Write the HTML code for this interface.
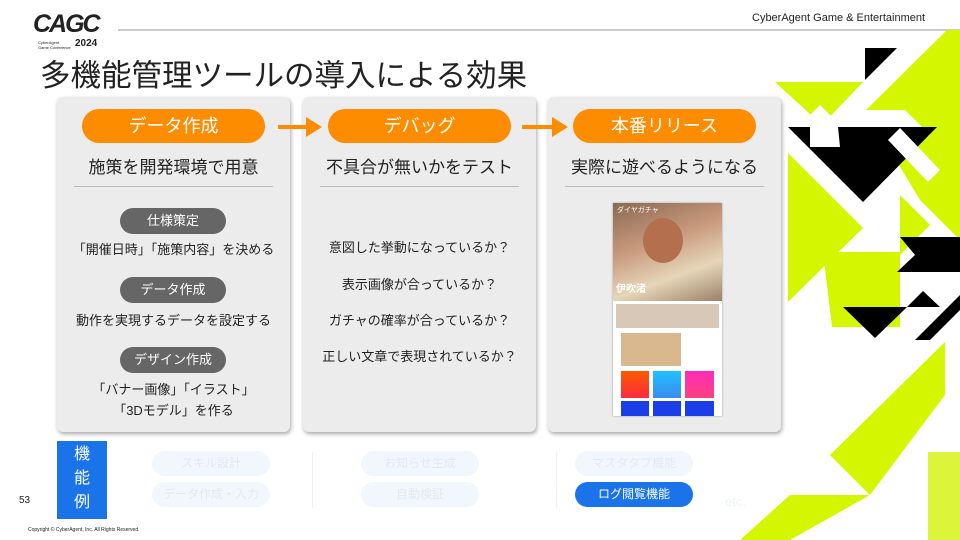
<!DOCTYPE html>
<html><head><meta charset="utf-8"><style>
body{margin:0;width:960px;height:540px;overflow:hidden;background:#fff;font-family:"Liberation Sans","Noto Sans CJK JP",sans-serif;position:relative;color:#222}
.a{position:absolute}
.panel{position:absolute;top:97px;width:233px;height:335px;background:#ececec;border-radius:6px;box-shadow:1px 2px 4px rgba(0,0,0,.35)}
.pill{position:absolute;background:#fe8c00;color:#fff;border-radius:18px;text-align:center;font-size:18px;height:34px;line-height:34px}
.sub{position:absolute;width:100%;text-align:center;font-size:17px;top:56px}
.hr{position:absolute;left:17px;right:17px;top:89px;height:1px;background:#bbb}
.gp{position:absolute;background:#666;color:#fff;border-radius:13px;font-size:13px;height:26px;line-height:26px;text-align:center}
.t{position:absolute;width:100%;text-align:center;font-size:13px}
.fp{position:absolute;height:25px;line-height:25px;border-radius:13px;background:#f2f6fd;color:#e3e9f4;font-size:12px;text-align:center;width:118px}
</style></head><body>
<svg class="a" style="left:0;top:0" width="960" height="540">
<line x1="118" y1="30" x2="960" y2="30" stroke="#bbb" stroke-width="1.5"/>
<g fill="#d4f700">
<polygon points="775,82 863,82 822,125"/>
<polygon points="866,110 947,30 960,30 960,240 920,200"/>
<polygon points="788,153 863,228 788,302"/>
<polygon points="823,252 900,252 900,327 832,327"/>
<polygon points="900,195 930,225 900,255"/>
<polygon points="830,455 945,342 945,395 870,495 790,540 740,540 790,495 870,495"/>
<polygon points="830,455 870,495 870,420"/>
</g>
<polygon points="928,452 960,452 960,540 928,540" fill="#dcf43a"/>
<g fill="#fff">
<polygon points="866,110 905,110 930,135 900,160 880,140"/>
<polygon points="820,105 860,145 850,155 810,115"/>
</g>
<g fill="#000">
<polygon points="865,48 897,48 865,80"/>
<polygon points="788,127 937,127 863,202"/>
<polygon points="900,237 960,237 960,272 897,272 915,255"/>
<polygon points="843,307 907,307 875,338"/>
<polygon points="907,307 940,307 923,291"/>
<polygon points="915,340 960,295 960,310 930,340"/>
</g>
<g fill="#fff">
<polygon points="810,127 838,127 840,147 810,147"/>
<polygon points="888,140 900,128 940,170 928,182"/>
</g>
</svg>
<div class="a" style="left:33px;top:10px;font-size:25px;font-weight:900;font-style:italic;letter-spacing:-2px">CAGC</div>
<div class="a" style="left:38px;top:40px;font-size:4px;line-height:5px">CyberAgent<br>Game Conference</div>
<div class="a" style="left:75px;top:38px;font-size:10px;font-weight:bold">2024</div>
<div class="a" style="left:752px;top:12px;font-size:11px">CyberAgent Game &amp; Entertainment</div>
<div class="a" style="left:40px;top:57px;font-size:30.5px;line-height:38px">多機能管理ツールの導入による効果</div>

<div class="panel" style="left:57px">
<div class="pill" style="left:25px;top:12px;width:183px">データ作成</div>
<div class="sub">施策を開発環境で用意</div><div class="hr"></div>
<div class="gp" style="left:63px;top:111px;width:106px">仕様策定</div>
<div class="t" style="top:142px">「開催日時」「施策内容」を決める</div>
<div class="gp" style="left:63px;top:180px;width:106px">データ作成</div>
<div class="t" style="top:213px">動作を実現するデータを設定する</div>
<div class="gp" style="left:63px;top:250px;width:106px">デザイン作成</div>
<div class="t" style="top:282px;line-height:21px">「バナー画像」「イラスト」<br>「3Dモデル」を作る</div>
</div>
<div class="panel" style="left:303px">
<div class="pill" style="left:25px;top:12px;width:183px">デバッグ</div>
<div class="sub">不具合が無いかをテスト</div><div class="hr"></div>
<div class="t" style="top:140px">意図した挙動になっているか？</div>
<div class="t" style="top:177px">表示画像が合っているか？</div>
<div class="t" style="top:213px">ガチャの確率が合っているか？</div>
<div class="t" style="top:249px">正しい文章で表現されているか？</div>
</div>
<div class="panel" style="left:548px">
<div class="pill" style="left:25px;top:12px;width:183px">本番リリース</div>
<div class="sub">実際に遊べるようになる</div><div class="hr"></div>
<div class="a" style="left:65px;top:106px;width:109px;height:213px;background:#fff;box-shadow:0 0 2px #999;overflow:hidden">
<div class="a" style="left:0;top:0;width:109px;height:98px;background:linear-gradient(160deg,#8a6a52,#c99a7e 40%,#e6d6b8 70%,#9a8068)"></div>
<div class="a" style="left:30px;top:15px;width:40px;height:45px;border-radius:50%;background:#b4704e"></div>
<div class="a" style="left:4px;top:2px;font-size:7px;color:#fff">ダイヤガチャ</div>
<div class="a" style="left:3px;top:77px;font-size:10px;color:#fff;font-weight:bold">伊吹渚</div>
<div class="a" style="left:3px;top:101px;width:103px;height:24px;background:#d8c8b8"></div>
<div class="a" style="left:8px;top:130px;width:60px;height:33px;background:#d9b890"></div>
<div class="a" style="left:8px;top:168px;width:28px;height:27px;background:linear-gradient(#fc5a00,#ff2a40)"></div>
<div class="a" style="left:40px;top:168px;width:28px;height:27px;background:linear-gradient(#1fc2ff,#3a8bf0)"></div>
<div class="a" style="left:72px;top:168px;width:29px;height:27px;background:linear-gradient(#ff2cb8,#ff4080)"></div>
<div class="a" style="left:8px;top:198px;width:28px;height:15px;background:#1b3ee8"></div>
<div class="a" style="left:40px;top:198px;width:28px;height:15px;background:#1b3ee8"></div>
<div class="a" style="left:72px;top:198px;width:29px;height:15px;background:#1b3ee8"></div>
</div>
</div>
<svg class="a" style="left:0;top:0;z-index:5" width="960" height="200">
<polygon points="278,125 306,125 306,117 322,127 306,137 306,129 278,129" fill="#fe8c00"/>
<polygon points="522,125 552,125 552,117 568,127 552,137 552,129 522,129" fill="#fe8c00"/>
</svg>

<div class="a" style="left:57px;top:441px;width:50px;height:78px;background:#1a73e8;color:#fff;font-size:16px;line-height:24px;text-align:center;padding-top:2px;box-sizing:border-box">機<br>能<br>例</div>
<div class="a" style="left:19px;top:495px;font-size:10px">53</div>
<div class="fp" style="left:152px;top:451px">スキル設計</div>
<div class="fp" style="left:152px;top:482px">データ作成・入力</div>
<div class="a" style="left:312px;top:452px;width:1px;height:56px;background:#f0f0f0"></div>
<div class="fp" style="left:361px;top:451px">お知らせ生成</div>
<div class="fp" style="left:361px;top:482px">自動検証</div>
<div class="a" style="left:556px;top:452px;width:1px;height:56px;background:#f0f0f0"></div>
<div class="fp" style="left:575px;top:451px">マスタタブ機能</div>
<div class="fp" style="left:575px;top:482px;background:#1a73e8;color:#fff">ログ閲覧機能</div>
<div class="a" style="left:725px;top:494px;font-size:13px;color:#eef2f8">etc.</div>
<div class="a" style="left:28px;top:527px;font-size:5px">Copyright © CyberAgent, Inc. All Rights Reserved.</div>
</body></html>
